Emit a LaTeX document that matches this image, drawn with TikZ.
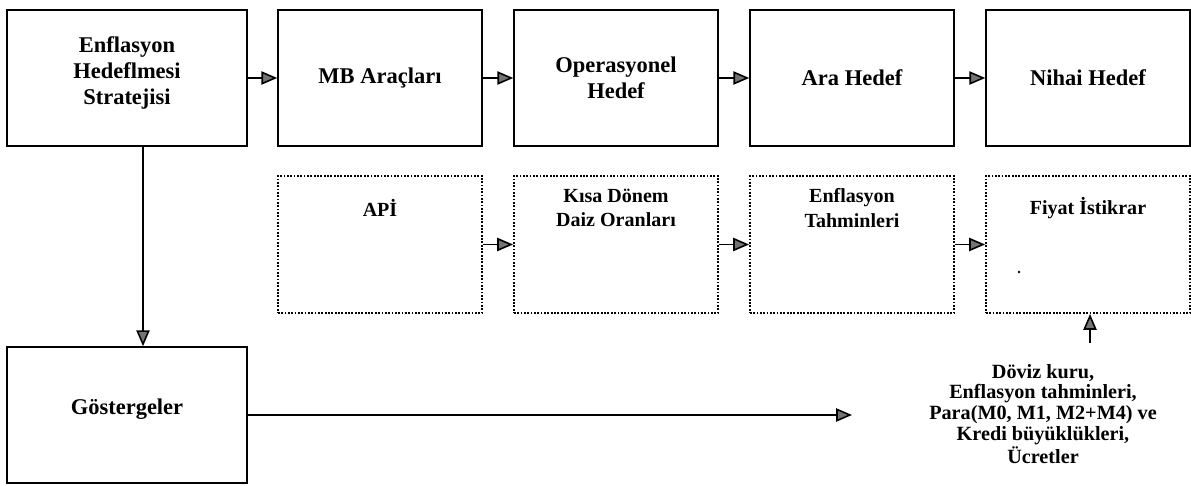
\documentclass[tikz,border=0pt]{standalone}
\usepackage{fontspec}
\setmainfont{Liberation Serif}
\usetikzlibrary{arrows.meta}
\usetikzlibrary{calc}

\begin{document}
\begin{tikzpicture}[x=0.02cm, y=-0.02cm,
  box/.style={draw, line width=0.9pt, minimum width=4.08cm, minimum height=2.72cm, inner sep=0,
    align=center, font=\bfseries\fontsize{12.8}{14.8}\selectfont},
  dotbox/.style={draw, line width=1.1pt, dash pattern=on 1pt off 0.9pt,
    minimum width=4.08cm, minimum height=2.74cm, inner sep=0},
  lbl/.style={align=center, font=\bfseries\fontsize{11.4}{13.7}\selectfont},
  arr/.style={line width=0.9pt, -{Triangle[length=9pt, width=7.5pt, fill=black!55]}}]
\useasboundingbox (0,0) rectangle (1191,486);

% top row
\node[box, minimum width=4.8cm, text depth=0.3cm] (ehs) at (127,78) {Enflasyon\\Hedeflmesi\\Stratejisi};
\node[box] (mb)  at (380,78)  {MB Araçları};
\node[box] (op)  at (616,78)  {Operasyonel\\Hedef};
\node[box] (ara) at (852,78)  {Ara Hedef};
\node[box] (nh)  at (1088,78) {Nihai Hedef};
\draw[arr] (ehs) -- (mb);
\draw[arr] (mb) -- (op);
\draw[arr] (op) -- (ara);
\draw[arr] (ara) -- (nh);

% second row
\node[dotbox] (api) at (380,244.5)  {};
\node[dotbox] (kd)  at (616,244.5)  {};
\node[dotbox] (et)  at (852,244.5)  {};
\node[dotbox] (fiy) at (1088,244.5) {};
\foreach \b/\t in {api/{APİ}, kd/{Kısa Dönem\\Daiz Oranları}, et/{Enflasyon\\Tahminleri}, fiy/{Fiyat İstikrar}}
  \node[lbl] (\b-t) at ([yshift=-0.66cm]\b.north) {\t};
\draw[arr] (api) -- (kd);
\draw[arr] (kd) -- (et);
\draw[arr] (et) -- (fiy);
\fill (1019,272) circle (0.8pt);

% indicators
\node[box, minimum width=4.8cm, text depth=0.35cm] (gos) at (127,415) {Göstergeler};
\draw[arr] ([xshift=0.32cm]ehs.south) -- ([xshift=0.32cm]gos.north);
\coordinate (gosEnd) at (852,415);
\draw[arr] (gos) -- (gosEnd);
\node[lbl, font=\bfseries\fontsize{11.5}{11.9}\selectfont] (ind) at (1043,414)
  {Döviz kuru,\\Enflasyon tahminleri,\\Para(M0, M1, M2+M4) ve\\Kredi büyüklükleri,\\Ücretler};
\coordinate (indTop) at (1090,343);
\draw[arr] (indTop) -- (indTop |- fiy.south);
\end{tikzpicture}
\end{document}
